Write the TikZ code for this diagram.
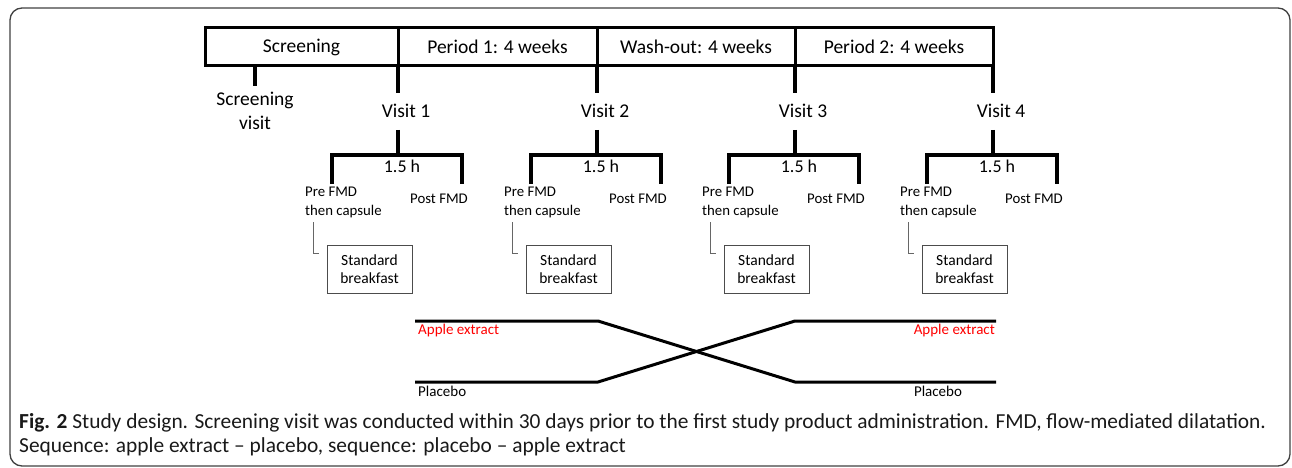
\documentclass[tikz,border=0pt]{standalone}
\usepackage{fontspec}
\setmainfont{Carlito}
\begin{document}
\begin{tikzpicture}[x=1pt,y=-1pt,
  thk/.style={line width=3.3pt},
  phase/.style={draw, line width=3pt, minimum height=38pt, inner sep=0pt, font=\fontsize{19.5}{22}\selectfont},
  big/.style={font=\fontsize{19.5}{24}\selectfont, inner sep=1pt, align=center},
  small/.style={font=\fontsize{14.8}{19}\selectfont, inner sep=0pt, align=left},
  bkf/.style={draw=black!70, line width=0.8pt, minimum width=85pt, minimum height=48pt, inner sep=0pt, align=center, font=\fontsize{15.5}{18}\selectfont},
  thin/.style={draw=black!60, line width=0.8pt},
  lab/.style={font=\fontsize{15}{17}\selectfont, inner sep=0pt}
]
\useasboundingbox (0,0) rectangle (1292,468);
\draw[black!75, line width=1.3pt, rounded corners=12pt] (10,8) rectangle (1290,466);

% phase boxes
\node[phase, minimum width=193pt] (b1) at (301.5,47) {Screening};
\node[phase, minimum width=199pt] (b2) at (497.5,47) {Period 1: 4 weeks};
\node[phase, minimum width=198pt] (b3) at (696,47) {Wash-out: 4 weeks};
\node[phase, minimum width=198pt] (b4) at (894,47) {Period 2: 4 weeks};

% screening visit
\node[big] (sv) at (255,111) {Screening\\visit};
\coordinate (svt) at (255,66);
\coordinate (svb) at (255,86);
\draw[thk] (svt) -- (svb);

\foreach \i/\V in {1/398,2/597,3/795,4/993}{
  \coordinate (t\i) at (\V,66);
  \coordinate (tb\i) at (\V,93);
  \node[big] (v\i) at (\V+8,111) {Visit \i};
  \coordinate (u\i) at (\V,130);
  \coordinate (m\i) at (\V,155);
  \coordinate (bl\i) at (\V-66,155);
  \coordinate (br\i) at (\V+64,155);
  \coordinate (bld\i) at (\V-66,184);
  \coordinate (brd\i) at (\V+64,184);
  \draw[thk] (t\i) -- (tb\i);
  \draw[thk] (u\i) -- (m\i);
  \draw[thk] (bld\i) -- (bl\i) -- (br\i) -- (brd\i);
  \node[big, font=\fontsize{18}{22}\selectfont] (h\i) at (\V+4,166) {1.5 h};
  \node[small, anchor=north west] (pre\i) at (\V-93,187) {Pre FMD\\then capsule};
  \node[small] (post\i) at (\V+41,199) {Post FMD};
  \node[bkf] (sb\i) at (\V-28.5,269) {Standard\\breakfast};
  \coordinate (lc\i) at (\V-85,222);
  \coordinate (ld\i) at (\V-85,253);
  \coordinate (le\i) at (\V-79,253);
  \draw[thin] (lc\i) -- (ld\i) -- (le\i);
}

% crossover
\coordinate (a1) at (415,321);
\coordinate (a2) at (598,321);
\coordinate (a3) at (795,321);
\coordinate (a4) at (996,321);
\coordinate (p1) at (415,382);
\coordinate (p2) at (598,382);
\coordinate (p3) at (795,382);
\coordinate (p4) at (996,382);
\draw[thk, line width=3pt] (a1) -- (a2) -- (p3) -- (p4);
\draw[thk, line width=3pt] (p1) -- (p2) -- (a3) -- (a4);
\node[lab, text=red, anchor=west] (ae1) at (418,330) {Apple extract};
\node[lab, text=red, anchor=east] (ae2) at (995,330) {Apple extract};
\node[lab, anchor=west] (pl1) at (418,391) {Placebo};
\node[lab] (pl2) at (938,391) {Placebo};

% caption
\node[anchor=west, inner sep=0pt, font=\fontsize{21.4}{24}\selectfont, text=black!90] (cap1) at (19,423) {\textbf{Fig. 2} Study design. Screening visit was conducted within 30 days prior to the first study product administration. FMD, flow-mediated dilatation.};
\node[anchor=west, inner sep=0pt, font=\fontsize{21.4}{24}\selectfont, text=black!90] (cap2) at (19,447) {Sequence: apple extract -- placebo, sequence: placebo -- apple extract};
\end{tikzpicture}
\end{document}
